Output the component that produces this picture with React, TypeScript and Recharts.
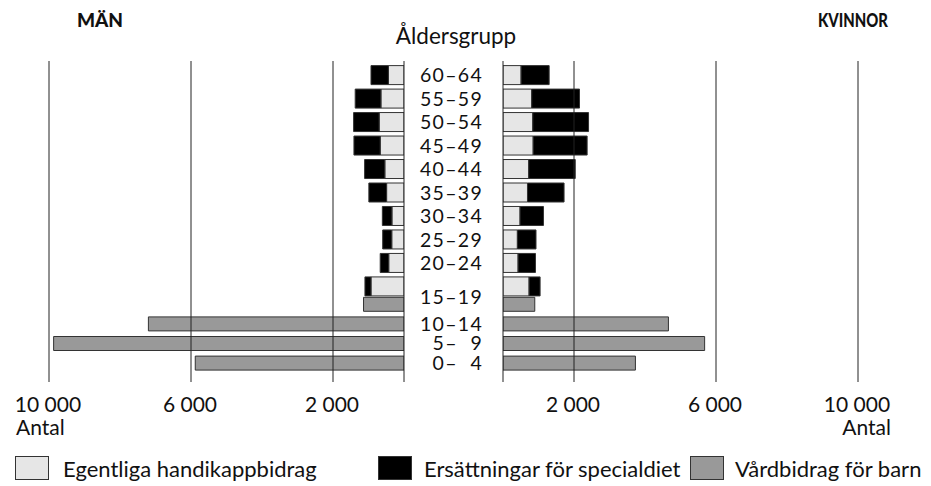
import React from "react";
import { BarChart, Bar, XAxis, YAxis, CartesianGrid, LineChart } from "recharts";

const ageTop = ["60–64", "55–59", "50–54", "45–49", "40–44", "35–39", "30–34", "25–29", "20–24", "15–19"];
const menHandi = [440, 650, 700, 670, 540, 490, 340, 345, 430, 930];
const menDiet = [490, 725, 720, 740, 570, 500, 270, 255, 240, 170];
const womenHandi = [510, 810, 840, 850, 725, 690, 480, 405, 425, 735];
const womenDiet = [790, 1345, 1570, 1520, 1310, 1030, 660, 525, 490, 310];

const ageBottom = ["15–19", "10–14", "5–\u20079", "0–\u20074"];
const menCare = [1140, 7200, 9870, 5880];
const womenCare = [895, 4660, 5680, 3730];

const gridTicks = [0, 2000, 6000, 10000];
const seriesNames = ["Egentliga handikappbidrag", "Ersättningar för specialdiet", "Vårdbidrag för barn"];
const seriesColors = ["#e6e6e6", "#000000", "#999999"];
const titleMen = "MÄN";
const titleWomen = "KVINNOR";
const titleAge = "Åldersgrupp";
const axisUnit = "Antal";

const FONT = "Lato, 'Noto Sans', sans-serif";
const W = 931;
const H = 486;

const topRows = ageTop.map((age, i) => ({
  age,
  menHandi: menHandi[i],
  menDiet: menDiet[i],
  womenHandi: womenHandi[i],
  womenDiet: womenDiet[i],
}));
const bottomRows = ageBottom.map((age, i) => ({ age, menCare: menCare[i], womenCare: womenCare[i] }));

const fmt = (v: number) => String(v).replace(/\B(?=(\d{3})+(?!\d))/g, " ");

const LEFT = { left: 49, right: W - 404 };
const RIGHT = { left: 503, right: W - 858 };
const TOP_BAND = { top: 63.6, bottom: H - 298.4 };
const BOT_BAND = { top: 294.3, bottom: H - 372.7 };

const AgeTick = (hideShared: boolean) => (props: any) => {
  const { x, y, payload } = props;
  if (hideShared && payload.value === ageBottom[0]) return <g />;
  const shift = !hideShared && payload.value === ageTop[ageTop.length - 1] ? -7 : 0;
  return (
    <text x={x - 20} y={y + 7 + shift} textAnchor="end" fontFamily={FONT} fontSize={19.5} letterSpacing={1.3} fill="#111">
      {payload.value}
    </text>
  );
};

const AxisTick = (side: "left" | "right") => (props: any) => {
  const { x, y, payload } = props;
  if (payload.value === 0) return <g />;
  return (
    <g>
      <text x={x - 1} y={y + 30} textAnchor="middle" fontFamily={FONT} fontSize={21} fill="#111">
        {fmt(payload.value)}
      </text>
      {payload.value === 10000 && (
        <text
          x={side === "left" ? x - 33 : x + 33}
          y={y + 53}
          textAnchor={side === "left" ? "start" : "end"}
          fontFamily={FONT}
          fontSize={21}
          fill="#111"
        >
          {axisUnit}
        </text>
      )}
    </g>
  );
};

const layer: React.CSSProperties = { position: "absolute", left: 0, top: 0 };

export default function App() {
  return (
    <div style={{ position: "fixed", left: 0, top: 0, width: W, height: H, background: "#fff", overflow: "hidden" }}>
      {/* Men, top rows */}
      <div style={layer}>
        <BarChart width={W} height={H} data={topRows} layout="vertical" margin={{ ...LEFT, ...TOP_BAND }}>
          <XAxis type="number" domain={[0, 10000]} reversed hide allowDataOverflow />
          <YAxis type="category" dataKey="age" hide />
          <Bar dataKey="menHandi" stackId="m" fill={seriesColors[0]} stroke="#333" strokeWidth={1} barSize={19} isAnimationActive={false} />
          <Bar dataKey="menDiet" stackId="m" fill={seriesColors[1]} stroke="#333" strokeWidth={1} barSize={19} isAnimationActive={false} />
        </BarChart>
      </div>
      {/* Men, bottom rows */}
      <div style={layer}>
        <BarChart width={W} height={H} data={bottomRows} layout="vertical" margin={{ ...LEFT, ...BOT_BAND }}>
          <XAxis type="number" domain={[0, 10000]} reversed hide allowDataOverflow />
          <YAxis type="category" dataKey="age" hide />
          <Bar dataKey="menCare" fill={seriesColors[2]} stroke="#333" strokeWidth={1} barSize={14} isAnimationActive={false} />
        </BarChart>
      </div>
      {/* Women, top rows */}
      <div style={layer}>
        <BarChart width={W} height={H} data={topRows} layout="vertical" margin={{ left: RIGHT.left - 100, right: RIGHT.right, ...TOP_BAND }}>
          <XAxis type="number" domain={[0, 10000]} hide allowDataOverflow />
          <YAxis type="category" dataKey="age" width={100} axisLine={false} tickLine={false} tickSize={0} tickMargin={0} tick={AgeTick(true)} interval={0} />
          <Bar dataKey="womenHandi" stackId="w" fill={seriesColors[0]} stroke="#333" strokeWidth={1} barSize={19} isAnimationActive={false} />
          <Bar dataKey="womenDiet" stackId="w" fill={seriesColors[1]} stroke="#333" strokeWidth={1} barSize={19} isAnimationActive={false} />
        </BarChart>
      </div>
      {/* Women, bottom rows */}
      <div style={layer}>
        <BarChart width={W} height={H} data={bottomRows} layout="vertical" margin={{ left: RIGHT.left - 100, right: RIGHT.right, ...BOT_BAND }}>
          <XAxis type="number" domain={[0, 10000]} hide allowDataOverflow />
          <YAxis type="category" dataKey="age" width={100} axisLine={false} tickLine={false} tickSize={0} tickMargin={0} tick={AgeTick(false)} interval={0} />
          <Bar dataKey="womenCare" fill={seriesColors[2]} stroke="#333" strokeWidth={1} barSize={14} isAnimationActive={false} />
        </BarChart>
      </div>
      {/* Grid frames (drawn above bars) */}
      <div style={{ ...layer, pointerEvents: "none" }}>
        <LineChart width={W} height={H} data={topRows} margin={{ ...LEFT, top: 61, bottom: 44 }}>
          <CartesianGrid horizontal={false} stroke="#222" strokeWidth={1} />
          <XAxis type="number" dataKey="menHandi" domain={[0, 10000]} reversed ticks={gridTicks} interval={0} height={60} axisLine={false} tickLine={false} tickSize={0} tickMargin={0} tick={AxisTick("left")} allowDataOverflow />
          <YAxis type="category" dataKey="age" hide />
        </LineChart>
      </div>
      <div style={{ ...layer, pointerEvents: "none" }}>
        <LineChart width={W} height={H} data={topRows} margin={{ ...RIGHT, top: 61, bottom: 44 }}>
          <CartesianGrid horizontal={false} stroke="#222" strokeWidth={1} />
          <XAxis type="number" dataKey="womenHandi" domain={[0, 10000]} ticks={gridTicks} interval={0} height={60} axisLine={false} tickLine={false} tickSize={0} tickMargin={0} tick={AxisTick("right")} allowDataOverflow />
          <YAxis type="category" dataKey="age" hide />
        </LineChart>
      </div>
      {/* Titles and legend */}
      <svg width={W} height={H} style={{ ...layer, pointerEvents: "none" }}>
        <text x={100} y={27} textAnchor="middle" fontFamily={FONT} fontWeight={900} fontSize={19} fill="#111">{titleMen}</text>
        <text x={853} y={27} textAnchor="middle" fontFamily={FONT} fontWeight={900} fontSize={19} textLength={70} lengthAdjust="spacingAndGlyphs" fill="#111">{titleWomen}</text>
        <text x={456} y={44} textAnchor="middle" fontFamily={FONT} fontSize={22.5} fill="#111">{titleAge}</text>
        {seriesNames.map((name, i) => {
          const bx = [15, 378, 690][i];
          const tx = [63, 424, 735][i];
          return (
            <g key={name}>
              <rect x={bx + 0.5} y={456.5} width={33} height={23} fill={seriesColors[i]} stroke="#333" strokeWidth={1} />
              <text x={tx} y={477} fontFamily={FONT} fontSize={22} fill="#111">{name}</text>
            </g>
          );
        })}
      </svg>
    </div>
  );
}
